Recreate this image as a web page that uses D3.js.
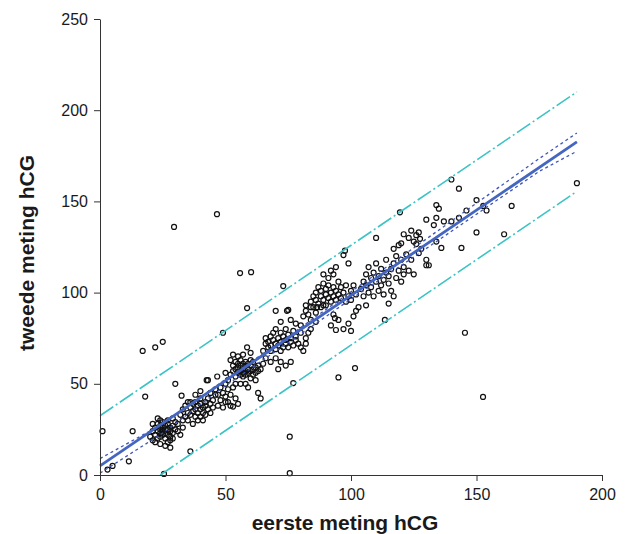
<!DOCTYPE html>
<html>
<head>
<meta charset="utf-8">
<script src="https://cdn.jsdelivr.net/npm/d3@7"></script>
<style>
  body { margin: 0; background: #fff; }
  text { font-family: Arial, "Liberation Sans", sans-serif; fill: #1a1a1a; }
</style>
</head>
<body>
<div id="chart"></div>
<script>
// metingen: [eerste meting, tweede meting]
var laag = [[1,24],[3,3],[5,5],[11.5,7.5],[13,24],[18,43],[17,68],[22,70],[25,73],[29.5,136],[46.6,143],
  [25.5,0.6],[36,13],[75.6,21],[75.6,1]];

var clusterA = [[20,21],[21,19],[21,24],[22,22],[22,26],[23,20],[23,24],[23,28],[24,21],[24,25],[24,27],[24,23],
  [25,22],[25,26],[25,29],[25,24],[26,20],[26,23],[26,27],[26,25],[27,22],[27,28],[27,25],[27,30],[28,24],[28,26],
  [28,21],[28,19],[29,27],[29,23],[29,31],[30,25],[30,29],[22,18],[24,17],[27,18],[26,16],[28,15],[29,20],[31,28],
  [31,24],[32,22],[33,26],[23,31],[24,30],[21,28]];

var clusterB = [[32,33],[33,30],[33,36],[34,32],[35,34],[35,30],[36,37],[36,33],[37,35],[37,39],[38,32],[38,36],
  [38,40],[39,34],[39,38],[40,36],[40,39],[40,42],[41,37],[41,34],[42,40],[42,38],[43,36],[43,42],[44,39],[44,45],
  [45,41],[36,40],[34,38],[39,30],[41,30],[37,28],[40,32],[42,33],[44,34],[45,37],[46,44],[30,50],[32.5,43.5],
  [43,52],[46.7,54],[42.5,52],[35,40],[38,44],[40,46]];

var clusterC = [[46,47],[47,44],[48,48],[48,41],[49,45],[50,43],[50,50],[51,47],[52,38],[53,37.5],[52,44],[53,48],
  [50,40],[47,38],[49,37],[51,40],[54,42],[55,39],[52,55],[53,57],[53,60],[54,54],[54,58],[54,62],[55,56],[55,59],
  [55,61],[56,55],[56,57],[56,60],[56,63],[57,56],[57,58],[57,61],[57,54],[58,57],[58,60],[58,62],[58,55],[59,58],
  [59,61],[59,56],[60,57],[60,60],[60,63],[61,58],[61,55],[61,62],[62,59],[62,56],[63,60],[63,57],[64,58],[65,61],
  [51,52],[50,56],[52,63],[55,65],[57,66],[60,53],[58,50],[59,48],[56,50],[54,50],[62,52],[63,45],[64,42],[49,78],
  [58.6,70],[60,67],[53,66],[58.6,91.5],[55.8,110.7],[60.2,111.2]];

var clusterD = [[65,68],[66,72],[66,75],[67,70],[67,73],[68,68],[68,76],[68,71],[69,74],[69,78],[70,72],[70,69],
  [70,80],[71,75],[71,71],[72,73],[72,78],[72,68],[73,76],[73,70],[74,74],[74,80],[74,72],[75,77],[75,70],[76,75],
  [76,73],[77,79],[77,71],[78,74],[78,76],[79,72],[80,78],[74.5,90],[72,84],[76,85],[78,83],[80,70],[81,68],[82,75],
  [83,78],[84,80],[80,82],[82,72],[66,64],[68,62],[70,64],[72,62],[71,58],[74,60],[76,62],[77,50.4],[70,90],
  [73,103.6],[75,90.5],[82,93],[84,92],[86.5,92],[89,93],[93.6,86],[94,79.5],[95,53.5]];

var clusterE = [[84,95],[85,98],[85,92],[86,100],[86,96],[87,103],[87,94],[88,98],[88,101],[89,96],[89,105],[90,99],
  [90,93],[90,102],[91,97],[91,104],[92,100],[92,95],[93,98],[93,103],[94,96],[94,101],[95,99],[95,106],[96,97],
  [96,103],[97,100],[98,95],[98,104],[99,98],[100,101],[100,96],[101,104],[102,99],[88,92],[86,89],[83,88],[82,90],
  [81,87],[84,85],[86,84],[93,88],[95,85],[97,80],[99,83],[101,87],[102,90],[92,82],[100,79],[97.6,123],
  [97,120.6],[99,116],[94,114],[93,110],[91,108],[89,110],[92,112],[101.6,58.6]];

var clusterF = [[104,102],[105,106],[105,98],[106,110],[106,104],[107,100],[107,114],[108,108],[108,103],[109,111],
  [109,98],[110,106],[110,116],[111,101],[111,109],[112,104],[112,113],[113,107],[113,99],[114,111],[114,118],
  [115,105],[115,109],[116,113],[116,101],[117,98],[117,116],[118,108],[118,120],[119,112],[120,106],[120,118],
  [121,114],[121,110],[110,130],[113.5,85],[115,94],[103,92],[106,93],[120,127],[121,132],[123,130],[124,134],
  [125,128],[126,131.5],[127,133],[127.5,129.5],[126,126.6],[127,121.6],[130,118],[130,115],[131,115],[119.5,144],
  [122,121],[124,118],[128,124],[123,112],[125,110],[119,126],[117,124]];

var hoog = [[134,128],[136,124.5],[144,124.5],[133,137],[130,140],[134,141],[137,139],[140,139],[143,141],[146,145],
  [134,148],[135,146],[140,162],[143,157],[150,150.7],[152.7,147.5],[154,145],[164,147.5],[150,133],[161,132],
  [190,160],[145.4,78],[152.6,42.8]];

// lijnen
var regressie = [[0,5],[190,182.6]];
var biBoven = [[0,9],[25,28],[50,52.5],[75,76],[100,100.5],[125,124.5],[150,149],[175,173.5],[190,187.5]];
var biOnder = [[0,1],[25,23],[50,49],[75,72.5],[100,96.5],[125,119.5],[150,143],[175,166.5],[190,177.5]];
var piBoven = [[0,32.5],[190,210]];
var piOnder = [[24,0],[190,155.5]];

var xTicks = [0, 50, 100, 150, 200];
var yTicks = [0, 50, 100, 150, 200, 250];

var punten = [].concat(laag, clusterA, clusterB, clusterC, clusterD, clusterE, clusterF, hoog);

var width = 630, height = 534;
var svg = d3.select('#chart').append('svg').attr('width', width).attr('height', height);

var x = d3.scaleLinear().domain([0, 200]).range([100, 602]);
var y = d3.scaleLinear().domain([0, 250]).range([475, 19]);

// punten
svg.append('g').selectAll('circle')
  .data(punten)
  .enter().append('circle')
  .attr('cx', function(d) { return x(d[0]); })
  .attr('cy', function(d) { return y(d[1]); })
  .attr('r', 2.5)
  .attr('fill', 'none')
  .attr('stroke', '#111')
  .attr('stroke-width', 1.2);

var line = d3.line().x(function(d) { return x(d[0]); }).y(function(d) { return y(d[1]); });

svg.append('path').datum(piBoven).attr('d', line)
  .attr('fill', 'none').attr('stroke', '#3cc3c6').attr('stroke-width', 1.6)
  .attr('stroke-dasharray', '16,3,2,3');
svg.append('path').datum(piOnder).attr('d', line)
  .attr('fill', 'none').attr('stroke', '#3cc3c6').attr('stroke-width', 1.6)
  .attr('stroke-dasharray', '16,3,2,3');

svg.append('path').datum(biBoven).attr('d', line)
  .attr('fill', 'none').attr('stroke', '#3f55b5').attr('stroke-width', 1.3)
  .attr('stroke-dasharray', '3,3');
svg.append('path').datum(biOnder).attr('d', line)
  .attr('fill', 'none').attr('stroke', '#3f55b5').attr('stroke-width', 1.3)
  .attr('stroke-dasharray', '3,3');

svg.append('path').datum(regressie).attr('d', line)
  .attr('fill', 'none').attr('stroke', '#4466c0').attr('stroke-width', 2.8);

// assen
var xAxis = svg.append('g').attr('transform', 'translate(0,475)')
  .call(d3.axisBottom(x).tickValues(xTicks).tickSize(6).tickPadding(8).tickSizeOuter(0));
var yAxis = svg.append('g').attr('transform', 'translate(100,0)')
  .call(d3.axisLeft(y).tickValues(yTicks).tickSize(6).tickPadding(6).tickSizeOuter(0));

[xAxis, yAxis].forEach(function(a) {
  a.select('.domain').attr('stroke', '#333');
  a.selectAll('.tick line').attr('stroke', '#333');
  a.selectAll('.tick text').style('font-size', '16px').style('font-family', 'Arial, "Liberation Sans", sans-serif').attr('fill', '#1a1a1a');
});

svg.append('text')
  .attr('x', 345).attr('y', 530)
  .attr('text-anchor', 'middle')
  .style('font-size', '21px').style('font-weight', 'bold')
  .text('eerste meting hCG');

svg.append('text')
  .attr('transform', 'translate(34,253) rotate(-90)')
  .attr('text-anchor', 'middle')
  .style('font-size', '21px').style('font-weight', 'bold')
  .text('tweede meting hCG');
</script>
</body>
</html>
